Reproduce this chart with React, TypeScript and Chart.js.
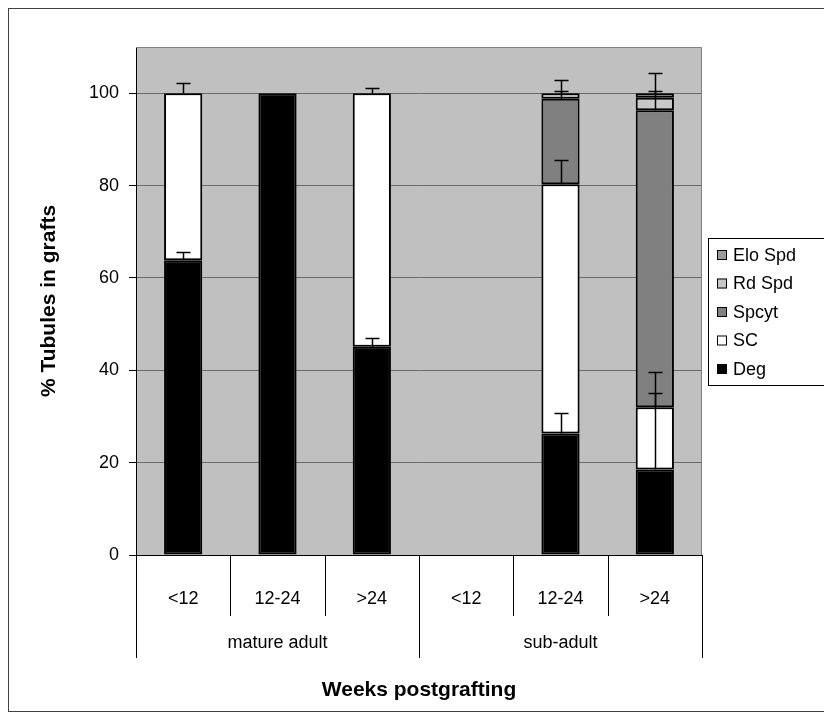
import React, { useEffect, useRef } from "react";
import { Chart, registerables } from "chart.js";

Chart.register(...registerables);

const categories = ["<12", "12-24", ">24", "<12", "12-24", ">24"];
const groups = ["mature adult", "sub-adult"];
const seriesNames = ["Deg", "SC", "Spcyt", "Rd Spd", "Elo Spd"];
const seriesColors = ["#000000", "#ffffff", "#808080", "#c8c8c8", "#9a9a9a"];

const degValues = [63.8, 100, 45.1, 0, 26.3, 18.5];
const scValues = [36.2, 0, 54.9, 0, 54.0, 13.5];
const spcytValues = [0, 0, 0, 0, 18.5, 64.3];
const rdSpdValues = [0, 0, 0, 0, 1.2, 2.7];
const eloSpdValues = [0, 0, 0, 0, 0, 1.0];

const degErr = [1.9, 0, 1.9, 0, 4.4, 16.6];
const scErr = [2.1, 0, 1.2, 0, 5.2, 7.6];
const spcytErr = [0, 0, 0, 0, 1.6, 4.1];
const rdSpdErr = [0, 0, 0, 0, 2.9, 0];
const eloSpdErr = [0, 0, 0, 0, 0, 4.3];

const yMax = 110;
const yStep = 20;
const yTickMax = 100;

const yTitle = "% Tubules in grafts";
const xTitle = "Weeks postgrafting";

const allValues = [degValues, scValues, spcytValues, rdSpdValues, eloSpdValues];
const allErrors = [degErr, scErr, spcytErr, rdSpdErr, eloSpdErr];

const FONT = "'Liberation Sans', Arial, sans-serif";

const framePlugin = {
  id: "frame",
  beforeDraw(chart: any) {
    const { ctx, chartArea } = chart;
    ctx.save();
    ctx.fillStyle = "#ffffff";
    ctx.fillRect(0, 0, chart.width, chart.height);
    ctx.strokeStyle = "#404040";
    ctx.lineWidth = 1;
    ctx.strokeRect(0.5, 0.5, chart.width - 1, 703);
    ctx.fillStyle = "#c0c0c0";
    ctx.fillRect(chartArea.left, chartArea.top, chartArea.right - chartArea.left, chartArea.bottom - chartArea.top);
    ctx.restore();
  },
  afterDatasetsDraw(chart: any) {
    const { ctx, chartArea } = chart;
    const xs = chart.scales.x;
    const ys = chart.scales.y;
    ctx.save();
    // error bars
    ctx.strokeStyle = "#000000";
    ctx.lineWidth = 1.5;
    for (let d = 0; d < allValues.length; d++) {
      for (let i = 0; i < categories.length; i++) {
        const err = allErrors[d][i];
        if (!err) continue;
        let top = 0;
        for (let k = 0; k <= d; k++) top += allValues[k][i];
        const x = Math.round(xs.getPixelForValue(i)) + 0.5;
        const y0 = ys.getPixelForValue(top);
        const y1 = Math.round(ys.getPixelForValue(top + err)) + 0.5;
        ctx.beginPath();
        ctx.moveTo(x, y0);
        ctx.lineTo(x, y1);
        ctx.moveTo(x - 7, y1);
        ctx.lineTo(x + 7, y1);
        ctx.stroke();
      }
    }
    // top & right border of plot area
    ctx.strokeStyle = "#808080";
    ctx.lineWidth = 1;
    ctx.beginPath();
    ctx.moveTo(chartArea.left, chartArea.top + 0.5);
    ctx.lineTo(chartArea.right - 0.5, chartArea.top + 0.5);
    ctx.lineTo(chartArea.right - 0.5, chartArea.bottom);
    ctx.stroke();
    ctx.restore();
  },
  afterDraw(chart: any) {
    const { ctx, chartArea } = chart;
    const xs = chart.scales.x;
    ctx.save();
    // category separators
    ctx.strokeStyle = "#000000";
    ctx.lineWidth = 1;
    for (let i = 0; i <= categories.length; i++) {
      const x = Math.round(xs.getPixelForValue(i - 0.5)) + 0.5;
      const isGroup = i % 3 === 0;
      ctx.beginPath();
      ctx.moveTo(x, chartArea.bottom);
      ctx.lineTo(x, isGroup ? 650 : 608);
      ctx.stroke();
    }
    // group labels
    ctx.fillStyle = "#000000";
    ctx.font = `18px ${FONT}`;
    ctx.textAlign = "center";
    ctx.textBaseline = "middle";
    groups.forEach((g, gi) => {
      const x = xs.getPixelForValue(gi * 3 + 1);
      ctx.fillText(g, x, 635);
    });
    // legend
    const lx = 700, ly = 230, lw = 122, lh = 147;
    ctx.strokeStyle = "#000000";
    ctx.lineWidth = 1;
    ctx.strokeRect(lx + 0.5, ly + 0.5, lw, lh);
    ctx.font = `18px ${FONT}`;
    ctx.textAlign = "left";
    const order = [4, 3, 2, 1, 0];
    order.forEach((d, r) => {
      const cy = ly + 17 + r * 28.5;
      ctx.fillStyle = seriesColors[d];
      ctx.fillRect(lx + 9, cy - 5, 10, 10);
      ctx.strokeStyle = "#000000";
      ctx.strokeRect(lx + 9.5, cy - 4.5, 9, 9);
      ctx.fillStyle = "#000000";
      ctx.fillText(seriesNames[d], lx + 25, cy + 1);
    });
    ctx.restore();
  },
};

export default function App() {
  const canvasRef = useRef<HTMLCanvasElement | null>(null);

  useEffect(() => {
    if (!canvasRef.current) return;
    const datasets = seriesNames.map((name, d) => ({
      label: name,
      data: allValues[d].map((v) => (v === 0 ? null : v)),
      backgroundColor: seriesColors[d],
      borderColor: "#000000",
      borderWidth: 2,
      borderSkipped: false as const,
      barPercentage: 1,
      categoryPercentage: 0.405,
      stack: "s",
    }));
    const chart = new Chart(canvasRef.current, {
      type: "bar",
      data: { labels: categories, datasets },
      plugins: [framePlugin],
      options: {
        responsive: false,
        animation: false,
        layout: { padding: { top: 39, right: 130, left: 0, bottom: 0 } },
        plugins: {
          legend: { display: false },
          tooltip: { enabled: false },
        },
        scales: {
          x: {
            stacked: true,
            grid: { display: false },
            border: { display: true, color: "#000000", width: 1 },
            ticks: {
              color: "#000000",
              font: { family: FONT, size: 18 },
              padding: 25,
              maxRotation: 0,
              autoSkip: false,
            },
            title: {
              display: true,
              text: xTitle,
              color: "#000000",
              font: { family: FONT, size: 21, weight: "bold" },
              padding: { top: 0, bottom: 17 },
            },
            afterFit(scale: any) {
              scale.height = 165;
            },
          },
          y: {
            stacked: true,
            min: 0,
            max: yMax,
            grid: {
              color: "#6a6a6a",
              lineWidth: 1,
              tickColor: "#000000",
              tickLength: 7,
            },
            border: { display: true, color: "#000000", width: 1 },
            ticks: {
              stepSize: yStep,
              color: "#000000",
              font: { family: FONT, size: 18 },
              padding: 10,
            },
            afterBuildTicks(scale: any) {
              scale.ticks = scale.ticks.filter((t: any) => t.value <= yTickMax);
            },
            title: {
              display: true,
              text: yTitle,
              color: "#000000",
              font: { family: FONT, size: 21, weight: "bold" },
              padding: { top: 29, bottom: 0 },
            },
            afterFit(scale: any) {
              scale.width = 128;
            },
          },
        },
      },
    });
    return () => chart.destroy();
  }, []);

  return (
    <div style={{ width: 824, height: 712 }}>
      <canvas ref={canvasRef} width={824} height={712} style={{ display: "block" }} />
    </div>
  );
}
